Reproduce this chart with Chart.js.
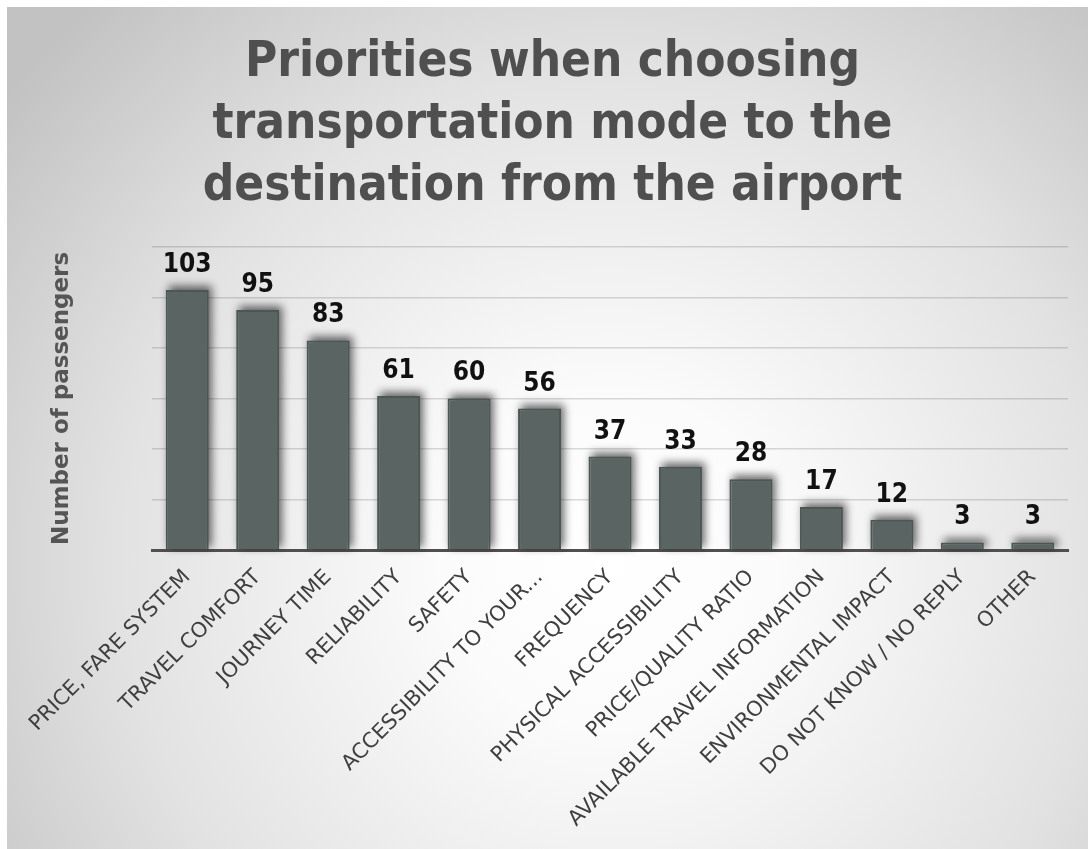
<!DOCTYPE html>
<html>
<head>
<meta charset="utf-8">
<script src="https://cdn.jsdelivr.net/npm/chart.js@4.4.1/dist/chart.umd.min.js"></script>
<style>
  html, body { margin: 0; padding: 0; background: #ffffff; }
  #wrap { width: 1088px; height: 849px; }
</style>
</head>
<body>
<div id="wrap"><canvas id="chart" width="1088" height="849"></canvas></div>
<script>
// Survey answers: what matters most when picking a mode of transport from the airport
const categories = [
  'PRICE, FARE SYSTEM',
  'TRAVEL COMFORT',
  'JOURNEY TIME',
  'RELIABILITY',
  'SAFETY',
  'ACCESSIBILITY TO YOUR...',
  'FREQUENCY',
  'PHYSICAL ACCESSIBILITY',
  'PRICE/QUALITY RATIO',
  'AVAILABLE TRAVEL INFORMATION',
  'ENVIRONMENTAL IMPACT',
  'DO NOT KNOW / NO REPLY',
  'OTHER'
];
const passengers = [103, 95, 83, 61, 60, 56, 37, 33, 28, 17, 12, 3, 3];
const titleLines = ['Priorities when choosing', 'transportation mode to the', 'destination from the airport'];
const yAxisTitle = 'Number of passengers';
const yMin = 0, yMax = 120, yStep = 20;

// Soft radial backdrop behind the whole chart
const backdrop = {
  id: 'backdrop',
  beforeDraw(chart) {
    const ctx = chart.ctx;
    ctx.save();
    ctx.fillStyle = '#ffffff';
    ctx.fillRect(0, 0, chart.width, chart.height);
    const g = ctx.createRadialGradient(610, 560, 0, 610, 560, 760);
    g.addColorStop(0, '#ffffff');
    g.addColorStop(0.22, '#fbfbfb');
    g.addColorStop(0.65, '#e2e2e2');
    g.addColorStop(1, '#c2c2c2');
    ctx.fillStyle = g;
    ctx.fillRect(7, 7, chart.width - 7, chart.height - 7);
    ctx.restore();
  }
};

// Nudge the title block so the heading sits over the middle of the card
const titleOffset = {
  id: 'titleOffset',
  afterLayout(chart) {
    const t = chart.titleBlock;
    if (t) { t.left += 15; t.right += 15; }
  }
};

// Blurred shadow behind each bar, then the value above it
const barShadowAndValues = {
  id: 'barShadowAndValues',
  beforeDatasetsDraw(chart) {
    const ctx = chart.ctx;
    const meta = chart.getDatasetMeta(0);
    ctx.save();
    ctx.filter = 'blur(4px)';
    ctx.fillStyle = 'rgba(0,0,0,0.58)';
    meta.data.forEach((bar) => {
      const { x, y, base, width } = bar.getProps(['x', 'y', 'base', 'width'], true);
      ctx.fillRect(x - width / 2 + 3, y - 4, width, base - y + 2);
    });
    ctx.restore();
  },
  afterDatasetsDraw(chart) {
    const ctx = chart.ctx;
    ctx.save();
    ctx.fillStyle = '#111111';
    ctx.font = 'bold 26px "DejaVu Sans Condensed", "DejaVu Sans", sans-serif';
    ctx.textAlign = 'center';
    ctx.textBaseline = 'alphabetic';
    const meta = chart.getDatasetMeta(0);
    meta.data.forEach((bar, i) => {
      ctx.fillText(String(chart.data.datasets[0].data[i]), bar.x, bar.y - 18);
    });
    ctx.restore();
  }
};

new Chart(document.getElementById('chart'), {
  type: 'bar',
  data: {
    labels: categories,
    datasets: [{
      data: passengers,
      backgroundColor: '#5a6563',
      borderColor: '#4c5654',
      borderWidth: 2,
      borderSkipped: 'bottom',
      categoryPercentage: 1,
      barPercentage: 0.61
    }]
  },
  options: {
    responsive: false,
    animation: false,
    devicePixelRatio: 1,
    layout: { padding: { left: 7, right: 20, top: 0, bottom: 0 } },
    plugins: {
      legend: { display: false },
      tooltip: { enabled: false },
      title: {
        display: true,
        text: titleLines,
        color: '#4f4f4f',
        font: { family: '"DejaVu Sans Condensed", "DejaVu Sans", sans-serif', size: 49, weight: 'bold', lineHeight: 1.265 },
        padding: { top: 32, bottom: 29 }
      }
    },
    scales: {
      x: {
        grid: { display: false, drawTicks: false },
        border: { display: true, color: '#505050', width: 3 },
        ticks: {
          color: '#3f3f3f',
          font: { family: '"DejaVu Sans", sans-serif', size: 21 },
          minRotation: 45,
          maxRotation: 45,
          autoSkip: false,
          padding: 15
        },
        afterFit(scale) { scale.height = 299; }
      },
      y: {
        min: yMin,
        max: yMax,
        ticks: { display: false, stepSize: yStep },
        grid: { color: 'rgba(0,0,0,0.14)', lineWidth: 1.5, drawTicks: false },
        border: { display: false },
        title: {
          display: true,
          text: yAxisTitle,
          color: '#555555',
          font: { family: '"DejaVu Sans", sans-serif', size: 23, weight: 'bold' },
          padding: { top: 41, bottom: 0 }
        },
        afterFit(scale) { scale.width = 145; }
      }
    }
  },
  plugins: [backdrop, titleOffset, barShadowAndValues]
});
</script>
</body>
</html>
